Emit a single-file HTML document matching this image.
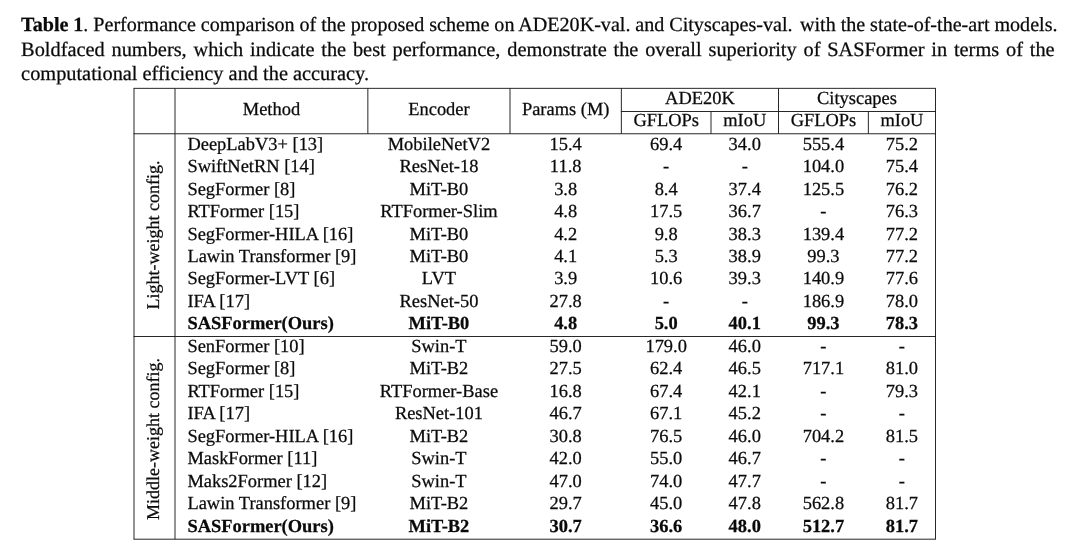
<!DOCTYPE html>
<html><head><meta charset="utf-8"><title>Table 1</title>
<style>
html,body{margin:0;padding:0;background:#fff;}
body{width:1080px;height:558px;position:relative;overflow:hidden;will-change:transform;text-rendering:geometricPrecision;font-family:"Liberation Serif",serif;color:#0a0a0a;-webkit-text-stroke:0.25px #0a0a0a;}
.cap{position:absolute;left:0;top:0;width:1035px;font-size:20.35px;line-height:26px;height:26px;white-space:nowrap;text-align:justify;text-align-last:justify;}
.t{position:absolute;left:0;top:0;font-size:18.45px;line-height:22px;height:22px;white-space:nowrap;transform-origin:0 17.00px;}
.b{font-weight:bold;}
.rot{position:absolute;font-size:18.0px;line-height:22px;white-space:nowrap;transform:translate(-50%,-50%) rotate(-90deg);}
</style></head><body>

<div class="cap" style="font-size:20.10px;transform-origin:0 20.0px;transform:translate(21.1px,11.60px);width:1036.4px;word-spacing:-0.36px;"><b>Table 1</b>. Performance comparison of the proposed scheme on ADE20K-val. and Cityscapes-val.<span style="margin-left:2.5px"></span> with the state-of-the-art models.</div>
<div class="cap" style="font-size:20.35px;transform-origin:0 20.0px;transform:translate(21.1px,36.90px);width:1033.5px;">Boldfaced numbers, which indicate the best performance, demonstrate the overall superiority of SASFormer in terms of the</div>
<div class="cap" style="font-size:20.35px;transform-origin:0 20.0px;transform:translate(21.1px,60.70px);text-align:left;text-align-last:left;width:auto;">computational efficiency and the accuracy.</div>
<svg width="1080" height="558" viewBox="0 0 1080 558" style="position:absolute;left:0;top:0" fill="none" stroke="#1c1c1c" stroke-width="0.95"><line x1="133.53" y1="88.35" x2="935.98" y2="88.35"/><line x1="620.88" y1="111.50" x2="935.98" y2="111.50"/><line x1="133.53" y1="133.75" x2="935.98" y2="133.75"/><line x1="133.53" y1="336.50" x2="935.98" y2="336.50"/><line x1="133.53" y1="539.20" x2="935.98" y2="539.20"/><line x1="134.00" y1="88.35" x2="134.00" y2="539.20"/><line x1="175.00" y1="88.35" x2="175.00" y2="539.20"/><line x1="935.50" y1="88.35" x2="935.50" y2="539.20"/><line x1="367.85" y1="88.35" x2="367.85" y2="133.75"/><line x1="510.00" y1="88.35" x2="510.00" y2="133.75"/><line x1="621.35" y1="88.35" x2="621.35" y2="133.75"/><line x1="778.50" y1="88.35" x2="778.50" y2="133.75"/><line x1="711.00" y1="111.50" x2="711.00" y2="133.75"/><line x1="868.35" y1="111.50" x2="868.35" y2="133.75"/></svg>
<div class="t" style="transform:translate(271.43px,98.00px) translateX(-50%)">Method</div>
<div class="t" style="transform:translate(438.93px,98.00px) translateX(-50%)">Encoder</div>
<div class="t" style="transform:translate(565.67px,98.00px) translateX(-50%)">Params (M)</div>
<div class="t" style="transform:translate(699.92px,86.80px) translateX(-50%)">ADE20K</div>
<div class="t" style="transform:translate(857.00px,86.80px) translateX(-50%)">Cityscapes</div>
<div class="t" style="transform:translate(666.17px,109.20px) translateX(-50%)">GFLOPs</div>
<div class="t" style="transform:translate(744.75px,109.20px) translateX(-50%)">mIoU</div>
<div class="t" style="transform:translate(823.42px,109.20px) translateX(-50%)">GFLOPs</div>
<div class="t" style="transform:translate(901.92px,109.20px) translateX(-50%)">mIoU</div>
<div class="t" style="transform:translate(187.40px,132.70px)">DeepLabV3+ [13]</div>
<div class="t" style="transform:translate(438.93px,132.70px) translateX(-50%)">MobileNetV2</div>
<div class="t" style="transform:translate(565.67px,132.70px) translateX(-50%)">15.4</div>
<div class="t" style="transform:translate(666.17px,132.70px) translateX(-50%)">69.4</div>
<div class="t" style="transform:translate(744.75px,132.70px) translateX(-50%)">34.0</div>
<div class="t" style="transform:translate(823.42px,132.70px) translateX(-50%)">555.4</div>
<div class="t" style="transform:translate(901.92px,132.70px) translateX(-50%)">75.2</div>
<div class="t" style="transform:translate(187.40px,155.16px)">SwiftNetRN [14]</div>
<div class="t" style="transform:translate(438.93px,155.16px) translateX(-50%)">ResNet-18</div>
<div class="t" style="transform:translate(565.67px,155.16px) translateX(-50%)">11.8</div>
<div class="t" style="transform:translate(666.17px,155.16px) translateX(-50%)">-</div>
<div class="t" style="transform:translate(744.75px,155.16px) translateX(-50%)">-</div>
<div class="t" style="transform:translate(823.42px,155.16px) translateX(-50%)">104.0</div>
<div class="t" style="transform:translate(901.92px,155.16px) translateX(-50%)">75.4</div>
<div class="t" style="transform:translate(187.40px,177.62px)">SegFormer [8]</div>
<div class="t" style="transform:translate(438.93px,177.62px) translateX(-50%)">MiT-B0</div>
<div class="t" style="transform:translate(565.67px,177.62px) translateX(-50%)">3.8</div>
<div class="t" style="transform:translate(666.17px,177.62px) translateX(-50%)">8.4</div>
<div class="t" style="transform:translate(744.75px,177.62px) translateX(-50%)">37.4</div>
<div class="t" style="transform:translate(823.42px,177.62px) translateX(-50%)">125.5</div>
<div class="t" style="transform:translate(901.92px,177.62px) translateX(-50%)">76.2</div>
<div class="t" style="transform:translate(187.40px,200.08px)">RTFormer [15]</div>
<div class="t" style="transform:translate(438.93px,200.08px) translateX(-50%)">RTFormer-Slim</div>
<div class="t" style="transform:translate(565.67px,200.08px) translateX(-50%)">4.8</div>
<div class="t" style="transform:translate(666.17px,200.08px) translateX(-50%)">17.5</div>
<div class="t" style="transform:translate(744.75px,200.08px) translateX(-50%)">36.7</div>
<div class="t" style="transform:translate(823.42px,200.08px) translateX(-50%)">-</div>
<div class="t" style="transform:translate(901.92px,200.08px) translateX(-50%)">76.3</div>
<div class="t" style="transform:translate(187.40px,222.54px)">SegFormer-HILA [16]</div>
<div class="t" style="transform:translate(438.93px,222.54px) translateX(-50%)">MiT-B0</div>
<div class="t" style="transform:translate(565.67px,222.54px) translateX(-50%)">4.2</div>
<div class="t" style="transform:translate(666.17px,222.54px) translateX(-50%)">9.8</div>
<div class="t" style="transform:translate(744.75px,222.54px) translateX(-50%)">38.3</div>
<div class="t" style="transform:translate(823.42px,222.54px) translateX(-50%)">139.4</div>
<div class="t" style="transform:translate(901.92px,222.54px) translateX(-50%)">77.2</div>
<div class="t" style="transform:translate(187.40px,245.00px)">Lawin Transformer [9]</div>
<div class="t" style="transform:translate(438.93px,245.00px) translateX(-50%)">MiT-B0</div>
<div class="t" style="transform:translate(565.67px,245.00px) translateX(-50%)">4.1</div>
<div class="t" style="transform:translate(666.17px,245.00px) translateX(-50%)">5.3</div>
<div class="t" style="transform:translate(744.75px,245.00px) translateX(-50%)">38.9</div>
<div class="t" style="transform:translate(823.42px,245.00px) translateX(-50%)">99.3</div>
<div class="t" style="transform:translate(901.92px,245.00px) translateX(-50%)">77.2</div>
<div class="t" style="transform:translate(187.40px,267.46px)">SegFormer-LVT [6]</div>
<div class="t" style="transform:translate(438.93px,267.46px) translateX(-50%)">LVT</div>
<div class="t" style="transform:translate(565.67px,267.46px) translateX(-50%)">3.9</div>
<div class="t" style="transform:translate(666.17px,267.46px) translateX(-50%)">10.6</div>
<div class="t" style="transform:translate(744.75px,267.46px) translateX(-50%)">39.3</div>
<div class="t" style="transform:translate(823.42px,267.46px) translateX(-50%)">140.9</div>
<div class="t" style="transform:translate(901.92px,267.46px) translateX(-50%)">77.6</div>
<div class="t" style="transform:translate(187.40px,289.92px)">IFA [17]</div>
<div class="t" style="transform:translate(438.93px,289.92px) translateX(-50%)">ResNet-50</div>
<div class="t" style="transform:translate(565.67px,289.92px) translateX(-50%)">27.8</div>
<div class="t" style="transform:translate(666.17px,289.92px) translateX(-50%)">-</div>
<div class="t" style="transform:translate(744.75px,289.92px) translateX(-50%)">-</div>
<div class="t" style="transform:translate(823.42px,289.92px) translateX(-50%)">186.9</div>
<div class="t" style="transform:translate(901.92px,289.92px) translateX(-50%)">78.0</div>
<div class="t b" style="transform:translate(187.40px,312.38px)">SASFormer(Ours)</div>
<div class="t b" style="transform:translate(438.93px,312.38px) translateX(-50%)">MiT-B0</div>
<div class="t b" style="transform:translate(565.67px,312.38px) translateX(-50%)">4.8</div>
<div class="t b" style="transform:translate(666.17px,312.38px) translateX(-50%)">5.0</div>
<div class="t b" style="transform:translate(744.75px,312.38px) translateX(-50%)">40.1</div>
<div class="t b" style="transform:translate(823.42px,312.38px) translateX(-50%)">99.3</div>
<div class="t b" style="transform:translate(901.92px,312.38px) translateX(-50%)">78.3</div>
<div class="t" style="transform:translate(187.40px,334.84px)">SenFormer [10]</div>
<div class="t" style="transform:translate(438.93px,334.84px) translateX(-50%)">Swin-T</div>
<div class="t" style="transform:translate(565.67px,334.84px) translateX(-50%)">59.0</div>
<div class="t" style="transform:translate(666.17px,334.84px) translateX(-50%)">179.0</div>
<div class="t" style="transform:translate(744.75px,334.84px) translateX(-50%)">46.0</div>
<div class="t" style="transform:translate(823.42px,334.84px) translateX(-50%)">-</div>
<div class="t" style="transform:translate(901.92px,334.84px) translateX(-50%)">-</div>
<div class="t" style="transform:translate(187.40px,357.30px)">SegFormer [8]</div>
<div class="t" style="transform:translate(438.93px,357.30px) translateX(-50%)">MiT-B2</div>
<div class="t" style="transform:translate(565.67px,357.30px) translateX(-50%)">27.5</div>
<div class="t" style="transform:translate(666.17px,357.30px) translateX(-50%)">62.4</div>
<div class="t" style="transform:translate(744.75px,357.30px) translateX(-50%)">46.5</div>
<div class="t" style="transform:translate(823.42px,357.30px) translateX(-50%)">717.1</div>
<div class="t" style="transform:translate(901.92px,357.30px) translateX(-50%)">81.0</div>
<div class="t" style="transform:translate(187.40px,379.76px)">RTFormer [15]</div>
<div class="t" style="transform:translate(438.93px,379.76px) translateX(-50%)">RTFormer-Base</div>
<div class="t" style="transform:translate(565.67px,379.76px) translateX(-50%)">16.8</div>
<div class="t" style="transform:translate(666.17px,379.76px) translateX(-50%)">67.4</div>
<div class="t" style="transform:translate(744.75px,379.76px) translateX(-50%)">42.1</div>
<div class="t" style="transform:translate(823.42px,379.76px) translateX(-50%)">-</div>
<div class="t" style="transform:translate(901.92px,379.76px) translateX(-50%)">79.3</div>
<div class="t" style="transform:translate(187.40px,402.22px)">IFA [17]</div>
<div class="t" style="transform:translate(438.93px,402.22px) translateX(-50%)">ResNet-101</div>
<div class="t" style="transform:translate(565.67px,402.22px) translateX(-50%)">46.7</div>
<div class="t" style="transform:translate(666.17px,402.22px) translateX(-50%)">67.1</div>
<div class="t" style="transform:translate(744.75px,402.22px) translateX(-50%)">45.2</div>
<div class="t" style="transform:translate(823.42px,402.22px) translateX(-50%)">-</div>
<div class="t" style="transform:translate(901.92px,402.22px) translateX(-50%)">-</div>
<div class="t" style="transform:translate(187.40px,424.68px)">SegFormer-HILA [16]</div>
<div class="t" style="transform:translate(438.93px,424.68px) translateX(-50%)">MiT-B2</div>
<div class="t" style="transform:translate(565.67px,424.68px) translateX(-50%)">30.8</div>
<div class="t" style="transform:translate(666.17px,424.68px) translateX(-50%)">76.5</div>
<div class="t" style="transform:translate(744.75px,424.68px) translateX(-50%)">46.0</div>
<div class="t" style="transform:translate(823.42px,424.68px) translateX(-50%)">704.2</div>
<div class="t" style="transform:translate(901.92px,424.68px) translateX(-50%)">81.5</div>
<div class="t" style="transform:translate(187.40px,447.14px)">MaskFormer [11]</div>
<div class="t" style="transform:translate(438.93px,447.14px) translateX(-50%)">Swin-T</div>
<div class="t" style="transform:translate(565.67px,447.14px) translateX(-50%)">42.0</div>
<div class="t" style="transform:translate(666.17px,447.14px) translateX(-50%)">55.0</div>
<div class="t" style="transform:translate(744.75px,447.14px) translateX(-50%)">46.7</div>
<div class="t" style="transform:translate(823.42px,447.14px) translateX(-50%)">-</div>
<div class="t" style="transform:translate(901.92px,447.14px) translateX(-50%)">-</div>
<div class="t" style="transform:translate(187.40px,469.60px)">Maks2Former [12]</div>
<div class="t" style="transform:translate(438.93px,469.60px) translateX(-50%)">Swin-T</div>
<div class="t" style="transform:translate(565.67px,469.60px) translateX(-50%)">47.0</div>
<div class="t" style="transform:translate(666.17px,469.60px) translateX(-50%)">74.0</div>
<div class="t" style="transform:translate(744.75px,469.60px) translateX(-50%)">47.7</div>
<div class="t" style="transform:translate(823.42px,469.60px) translateX(-50%)">-</div>
<div class="t" style="transform:translate(901.92px,469.60px) translateX(-50%)">-</div>
<div class="t" style="transform:translate(187.40px,492.06px)">Lawin Transformer [9]</div>
<div class="t" style="transform:translate(438.93px,492.06px) translateX(-50%)">MiT-B2</div>
<div class="t" style="transform:translate(565.67px,492.06px) translateX(-50%)">29.7</div>
<div class="t" style="transform:translate(666.17px,492.06px) translateX(-50%)">45.0</div>
<div class="t" style="transform:translate(744.75px,492.06px) translateX(-50%)">47.8</div>
<div class="t" style="transform:translate(823.42px,492.06px) translateX(-50%)">562.8</div>
<div class="t" style="transform:translate(901.92px,492.06px) translateX(-50%)">81.7</div>
<div class="t b" style="transform:translate(187.40px,514.52px)">SASFormer(Ours)</div>
<div class="t b" style="transform:translate(438.93px,514.52px) translateX(-50%)">MiT-B2</div>
<div class="t b" style="transform:translate(565.67px,514.52px) translateX(-50%)">30.7</div>
<div class="t b" style="transform:translate(666.17px,514.52px) translateX(-50%)">36.6</div>
<div class="t b" style="transform:translate(744.75px,514.52px) translateX(-50%)">48.0</div>
<div class="t b" style="transform:translate(823.42px,514.52px) translateX(-50%)">512.7</div>
<div class="t b" style="transform:translate(901.92px,514.52px) translateX(-50%)">81.7</div>
<div class="rot" style="left:152.60px;top:235.30px">Light-weight config.</div>
<div class="rot" style="left:152.60px;top:438.50px">Middle-weight config.</div>
</body></html>
